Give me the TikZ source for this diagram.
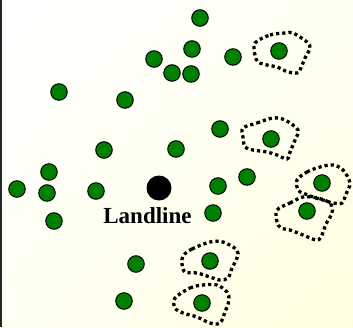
\documentclass[tikz,border=0pt]{standalone}
\usepackage{fontspec}
\setmainfont{Liberation Serif}
\usetikzlibrary{shadings}
\definecolor{phgreen}{HTML}{008000}
\definecolor{bgyel}{HTML}{FFFFE0}
\definecolor{bgmid}{HTML}{FFFFF3}
\begin{document}
\begin{tikzpicture}[x=1pt,y=-1pt,
  phone/.style={circle, fill=phgreen, draw=black, line width=1pt, minimum size=16.5pt, inner sep=0pt},
  landline/.style={circle, fill=black, minimum size=25pt, inner sep=0pt},
  zone/.style={draw=black, line width=3.3pt, dash pattern=on 3.2pt off 3pt}]
\useasboundingbox (0,0) rectangle (353,327);
\shade[upper left=white, upper right=bgmid, lower left=bgmid, lower right=bgyel] (0,0) rectangle (353,327);
\draw[line width=1.6pt, black!85] (0.8,0) -- (0.8,327);
% dotted zones
\draw[zone] plot[smooth cycle, tension=0.55] coordinates {(255,43) (270,35) (285,33) (293,33) (307,42) (310,48) (305,58) (300,70) (297,73) (288,72) (277,67) (267,65) (258,62) (255,55)};
\draw[zone] plot[smooth cycle, tension=0.55] coordinates {(243,128) (257,123) (273,118) (285,120) (298,130) (295,140) (290,152) (287,159) (277,155) (267,152) (253,150) (245,147) (243,137)};
\draw[zone] plot[smooth cycle, tension=0.55] coordinates {(297,180) (307,172) (320,167) (333,165) (343,170) (350,183) (346,194) (342,203) (333,203) (323,200) (313,197) (303,193) (298,190)};
\draw[zone] plot[smooth cycle, tension=0.55] coordinates {(277,210) (290,203) (303,197) (317,198) (330,203) (332,213) (326,224) (321,237) (316,240) (303,235) (290,230) (281,228) (277,222)};
\draw[zone] plot[smooth cycle, tension=0.55] coordinates {(183,256) (192,249) (210,242) (223,242) (237,250) (237,258) (232,268) (228,278) (220,280) (210,277) (197,273) (185,272) (182,264)};
\draw[zone] plot[smooth cycle, tension=0.55] coordinates {(175,298) (190,288) (203,285) (217,285) (227,292) (229,300) (225,312) (220,323) (210,323) (197,317) (183,313) (175,308)};
% phones
\node[phone] (p1) at (200,18) {};
\node[phone] (p2) at (192,49) {};
\node[phone] (p3) at (154,59) {};
\node[phone] (p4) at (233,57) {};
\node[phone] (p5) at (279,51) {};
\node[phone] (p6) at (172,73) {};
\node[phone] (p7) at (191,74) {};
\node[phone] (p8) at (59,92) {};
\node[phone] (p9) at (125,100) {};
\node[phone] (p10) at (220,129) {};
\node[phone] (p11) at (271,139) {};
\node[phone] (p12) at (104,150) {};
\node[phone] (p13) at (176,149) {};
\node[phone] (p14) at (49,172) {};
\node[phone] (p15) at (17,189) {};
\node[phone] (p16) at (47,193) {};
\node[phone] (p17) at (96,191) {};
\node[phone] (p18) at (218,186) {};
\node[phone] (p19) at (247,177) {};
\node[phone] (p20) at (322,183) {};
\node[phone] (p21) at (54,221) {};
\node[phone] (p22) at (213,213) {};
\node[phone] (p23) at (307,211) {};
\node[phone] (p24) at (136,264) {};
\node[phone] (p25) at (210,261) {};
\node[phone] (p26) at (124,301) {};
\node[phone] (p27) at (202,303) {};
% landline
\node[landline] (ll) at (159,188) {};
\node[anchor=base, inner sep=0pt, font=\fontsize{23}{23}\selectfont\bfseries] (lltext) at (147.5,223.3) {Landline};
\end{tikzpicture}
\end{document}
